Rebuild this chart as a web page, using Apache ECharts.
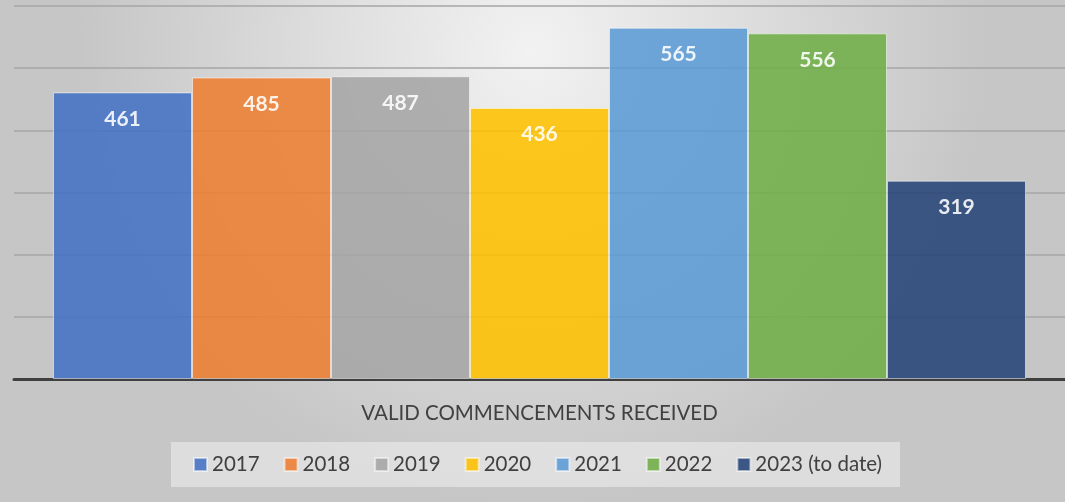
<!DOCTYPE html>
<html><head><meta charset="utf-8">
<script src="https://cdn.jsdelivr.net/npm/echarts@6/dist/echarts.min.js"></script>
<style>html,body{margin:0;padding:0;}#c{width:1065px;height:502px;}</style>
</head><body><div id="c"></div>
<script>
const seriesNames = ['2017','2018','2019','2020','2021','2022','2023 (to date)'];
const values = [461,485,487,436,565,556,319];
const colors = ['#4472C4','#ED7D31','#A5A5A5','#FFC000','#5B9BD5','#70AD47','#264478'];
const categories = [''];
const axisTitle = 'VALID COMMENCEMENTS RECEIVED';

const chart = echarts.init(document.getElementById('c'));
const series = seriesNames.map((n,i)=>({
  name:n, type:'bar', data:[values[i]], barWidth:139, barGap:'0%',
  itemStyle:{color:colors[i], opacity:0.88, borderColor:'rgba(255,255,255,0.6)', borderWidth:1},
  label:{show:true, position:'insideTop', distance:16, color:'#fff', fontWeight:'bold', fontSize:21, fontFamily:'Lato, Noto Sans, sans-serif'}
}));
chart.setOption({
  backgroundColor:{type:'radial', x:0.5, y:0.1, r:0.9, colorStops:[{offset:0,color:'#f2f2f2'},{offset:1,color:'#c6c6c6'}]},
  animation:false,
  grid:{left:14, width:1065, top:6, bottom:123},
  xAxis:{type:'category', data:categories, axisTick:{show:false}, axisLabel:{show:false},
    axisLine:{lineStyle:{color:'#404040', width:3}},
    name:axisTitle, nameLocation:'middle', nameGap:24,
    nameTextStyle:{color:'#404040', fontSize:20.5, fontFamily:'Lato, Noto Sans, sans-serif'}},
  yAxis:{type:'value', min:0, max:600, interval:100, axisLabel:{show:false}, axisLine:{show:false}, axisTick:{show:false},
    splitLine:{lineStyle:{color:'#a6a6a6', width:1.5}}},
  legend:{bottom:15, left:171, itemWidth:13, itemHeight:13, itemGap:24, icon:'rect',
    backgroundColor:'rgba(240,240,240,0.55)', padding:[12,18,12,22],
    textStyle:{color:'#404040', fontSize:20.5, fontFamily:'Lato, Noto Sans, sans-serif'}},
  series
});
</script></body></html>
